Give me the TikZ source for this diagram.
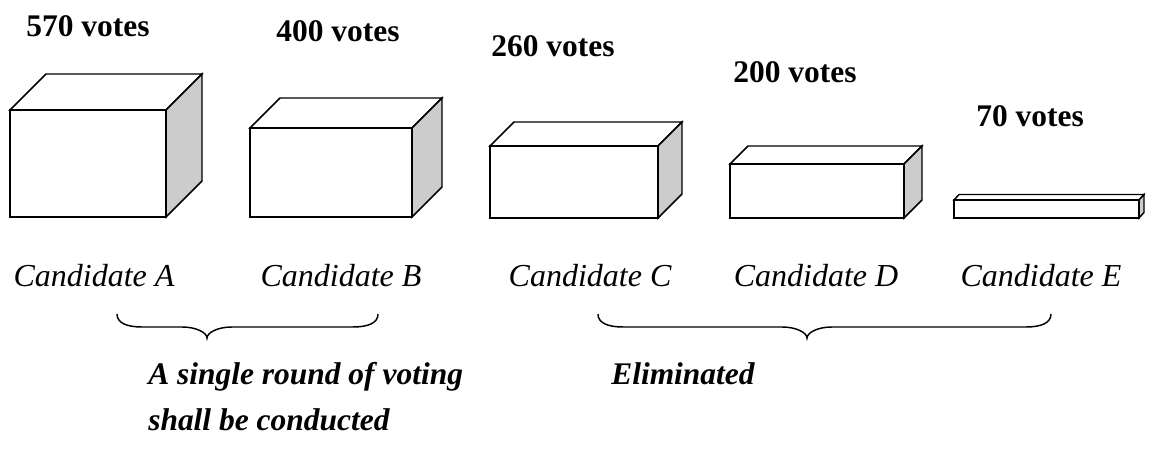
\documentclass[tikz,border=0pt]{standalone}
\usepackage{fontspec}
\setmainfont{Liberation Serif}
\tikzset{
  boxline/.style={line width=1.1pt, line join=miter},
  sideface/.style={boxline, fill={rgb, 255:red, 204; green, 204; blue, 204}},
  topface/.style={boxline, fill=white},
  votes/.style={anchor=base, inner sep=0.75pt, font=\fontsize{23.6}{28}\selectfont\bfseries},
  cand/.style={anchor=base, inner sep=0.75pt, font=\fontsize{24}{28}\selectfont\itshape},
  verdict/.style={anchor=base west, inner sep=0.75pt, font=\fontsize{23.6}{28}\selectfont\bfseries\itshape},
  bracket/.style={line width=1.1pt}
}
\begin{document}
\begin{tikzpicture}[x=0.75pt,y=0.75pt,yscale=-1,xscale=1]
\useasboundingbox (0,0) rectangle (1149,459);

%Shape: Cube [id:A]
\draw [topface] (10,110) -- (46,74) -- (202,74) -- (166,110) -- cycle ;
\draw [sideface] (166,110) -- (202,74) -- (202,181) -- (166,217) -- cycle ;
\draw [boxline] (10,110) rectangle (166,217) ;
%Shape: Cube [id:B]
\draw [topface] (250,128) -- (280,98) -- (442,98) -- (412,128) -- cycle ;
\draw [sideface] (412,128) -- (442,98) -- (442,187) -- (412,217) -- cycle ;
\draw [boxline] (250,128) rectangle (412,217) ;
%Shape: Cube [id:C]
\draw [topface] (490,146) -- (514,122) -- (682,122) -- (658,146) -- cycle ;
\draw [sideface] (658,146) -- (682,122) -- (682,194) -- (658,218) -- cycle ;
\draw [boxline] (490,146) rectangle (658,218) ;
%Shape: Cube [id:D]
\draw [topface] (730,164) -- (748,146) -- (922,146) -- (904,164) -- cycle ;
\draw [sideface] (904,164) -- (922,146) -- (922,200) -- (904,218) -- cycle ;
\draw [boxline] (730,164) rectangle (904,218) ;
%Shape: Cube [id:E]
\draw [topface] (954,200) -- (959,194.5) -- (1144,194.5) -- (1139,200) -- cycle ;
\draw [sideface] (1139,200) -- (1144,194.5) -- (1144,212.5) -- (1139,218) -- cycle ;
\draw [boxline] (954,200) rectangle (1139,218) ;

%Shape: Brace [id:left]
\coordinate (brA) at (117,314) ;
\coordinate (tipA) at (207,338) ;
\coordinate (brB) at (378,314) ;
\draw [bracket] (brA) .. controls (117,323) and (127,327) .. (142,327) -- (182,327) .. controls (197,327) and (207,333) .. (tipA) .. controls (207,333) and (217,327) .. (232,327) -- (353,327) .. controls (368,327) and (378,323) .. (brB) ;
%Shape: Brace [id:right]
\coordinate (brC) at (598,314) ;
\coordinate (tipC) at (807,338) ;
\coordinate (brE) at (1051,314) ;
\draw [bracket] (brC) .. controls (598,323) and (608,327) .. (623,327) -- (782,327) .. controls (797,327) and (807,333) .. (tipC) .. controls (807,333) and (817,327) .. (832,327) -- (1026,327) .. controls (1041,327) and (1051,323) .. (brE) ;

% Text Node
\draw (88,37) node [votes] (votesA) {570 votes};
% Text Node
\draw (338,42) node [votes] (votesB) {400 votes};
% Text Node
\draw (553,57) node [votes] (votesC) {260 votes};
% Text Node
\draw (795,83) node [votes] (votesD) {200 votes};
% Text Node
\draw (1030,127) node [votes] (votesE) {70 votes};

% Text Node
\draw (94,287) node [cand] (candA) {Candidate A};
% Text Node
\draw (341,287) node [cand] (candB) {Candidate B};
% Text Node
\draw (590,287) node [cand] (candC) {Candidate C};
% Text Node
\draw (816,287) node [cand] (candD) {Candidate D};
% Text Node
\draw (1041,287) node [cand] (candE) {Candidate E};

% Text Node
\draw (147,385) node [verdict] (round) {A single round of voting};
% Text Node
\draw (147,430) node [verdict] (conducted) {shall be conducted};
% Text Node
\draw (610,385) node [verdict] (elim) {Eliminated};
\end{tikzpicture}
\end{document}
